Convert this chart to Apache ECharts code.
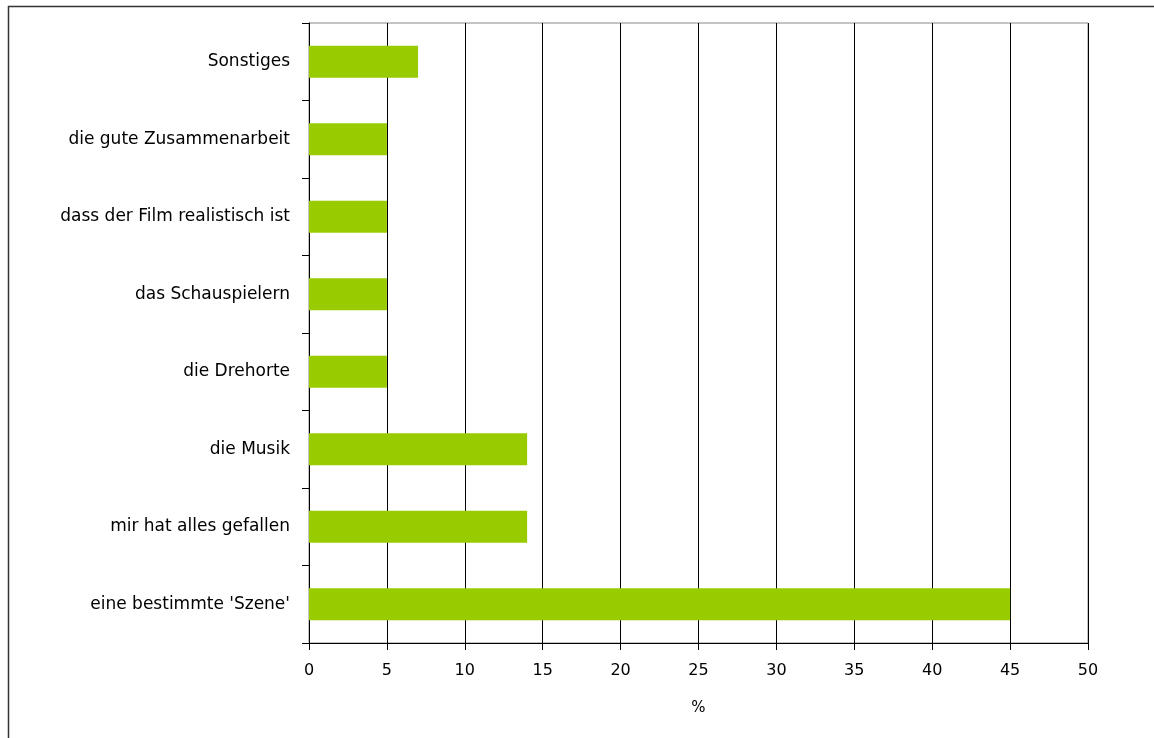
<!DOCTYPE html>
<html><head><meta charset="utf-8">
<script src="https://cdn.jsdelivr.net/npm/echarts@6/dist/echarts.min.js"></script>
<style>html,body{margin:0;padding:0;background:#fff}#c{width:1154px;height:738px}</style>
</head><body><div id="c"></div>
<script>
const categories = ["eine bestimmte 'Szene'", "mir hat alles gefallen", "die Musik", "die Drehorte", "das Schauspielern", "dass der Film realistisch ist", "die gute Zusammenarbeit", "Sonstiges"];
const values = [45, 14, 14, 5, 5, 5, 5, 7];
const axisName = "%";
const chart = echarts.init(document.getElementById('c'));
const font = "'DejaVu Sans', Verdana, sans-serif";
chart.setOption({
  animation: false,
  graphic: [{type: 'rect', shape: {x: 8.5, y: 6.5, width: 1200, height: 800}, style: {fill: 'none', stroke: '#333', lineWidth: 1.5}, z: -1}],
  grid: {left: 309, right: 66, top: 23, bottom: 95, show: true, borderColor: '#888', borderWidth: 1},
  xAxis: {
    type: 'value', min: 0, max: 50, interval: 5,
    name: axisName, nameLocation: 'middle', nameGap: 58,
    nameTextStyle: {color: '#000', fontSize: 15, fontFamily: font},
    axisLine: {show: true, lineStyle: {color: '#000', width: 1}},
    axisTick: {show: true, length: 7, lineStyle: {color: '#000'}},
    axisLabel: {color: '#000', fontSize: 16, fontFamily: font, margin: 20},
    splitLine: {show: true, lineStyle: {color: '#000', width: 1}}
  },
  yAxis: {
    type: 'category', data: categories,
    axisLine: {show: true, lineStyle: {color: '#000', width: 1}},
    axisTick: {show: true, length: 7, lineStyle: {color: '#000'}},
    axisLabel: {color: '#000', fontSize: 17, fontFamily: font, margin: 19}
  },
  series: [{type: 'bar', data: values, barCategoryGap: '59%', itemStyle: {color: '#99CC00'}}]
});
</script></body></html>
